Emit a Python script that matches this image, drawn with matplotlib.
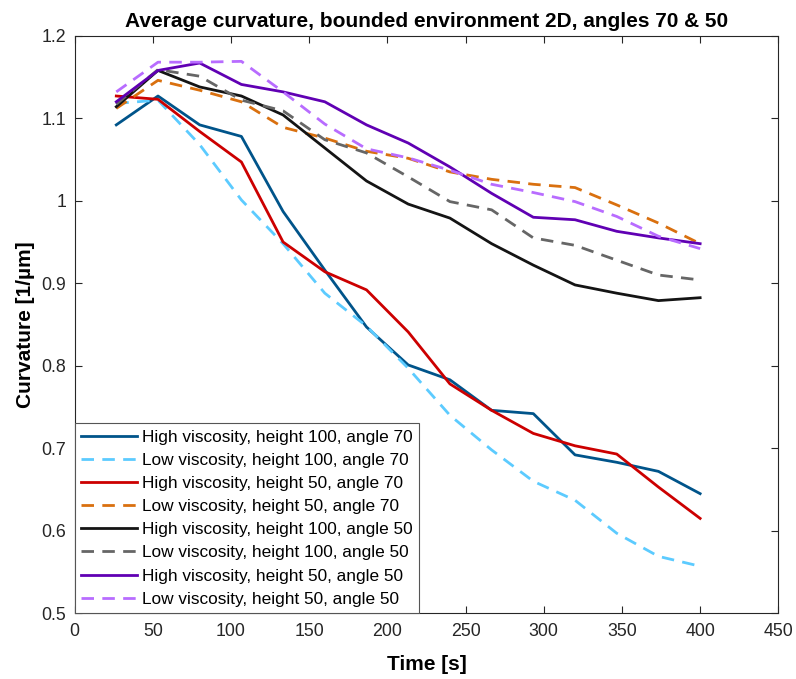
import numpy as np
import matplotlib
matplotlib.use("Agg")
import matplotlib.pyplot as plt

plt.rcParams['font.family'] = ['Liberation Sans', 'DejaVu Sans']

time_s = [26.67, 53.33, 80.0, 106.67, 133.33, 160.0, 186.67, 213.33, 240.0,
          266.67, 293.33, 320.0, 346.67, 373.33, 400.0]

high_h100_a70 = [1.092, 1.127, 1.092, 1.078, 0.987, 0.916, 0.847, 0.801, 0.783,
                 0.746, 0.742, 0.692, 0.683, 0.672, 0.645]
low_h100_a70 = [1.118, 1.122, 1.068, 1.001, 0.948, 0.888, 0.848, 0.797, 0.740,
                0.698, 0.660, 0.637, 0.597, 0.569, 0.557]
high_h50_a70 = [1.127, 1.123, 1.084, 1.047, 0.950, 0.914, 0.892, 0.841, 0.778,
                0.746, 0.718, 0.703, 0.693, 0.653, 0.615]
low_h50_a70 = [1.112, 1.146, 1.134, 1.120, 1.089, 1.076, 1.060, 1.0515, 1.035,
               1.026, 1.020, 1.016, 0.995, 0.973, 0.948]
high_h100_a50 = [1.114, 1.158, 1.138, 1.127, 1.104, 1.064, 1.024, 0.996, 0.979,
                 0.948, 0.922, 0.898, 0.888, 0.879, 0.8825]
low_h100_a50 = [1.117, 1.159, 1.151, 1.122, 1.109, 1.074, 1.058, 1.029, 0.999,
                0.989, 0.955, 0.946, 0.928, 0.910, 0.904]
high_h50_a50 = [1.120, 1.158, 1.167, 1.141, 1.132, 1.120, 1.092, 1.070, 1.041,
                1.009, 0.980, 0.977, 0.963, 0.955, 0.948]
low_h50_a50 = [1.132, 1.168, 1.168, 1.169, 1.132, 1.093, 1.063, 1.052, 1.037,
               1.020, 1.010, 0.999, 0.981, 0.957, 0.942]

labels = ["High viscosity, height 100, angle 70",
          "Low viscosity, height 100, angle 70",
          "High viscosity, height 50, angle 70",
          "Low viscosity, height 50, angle 70",
          "High viscosity, height 100, angle 50",
          "Low viscosity, height 100, angle 50",
          "High viscosity, height 50, angle 50",
          "Low viscosity, height 50, angle 50"]

series = [high_h100_a70, low_h100_a70, high_h50_a70, low_h50_a70,
          high_h100_a50, low_h100_a50, high_h50_a50, low_h50_a50]
colors = ['#00548A', '#5CCBFF', '#CC0000', '#D9700F',
          '#141414', '#666666', '#6000B3', '#B86CFF']
dashed = [False, True, False, True, False, True, False, True]

x_ticks = [0, 50, 100, 150, 200, 250, 300, 350, 400, 450]
y_ticks = [0.5, 0.6, 0.7, 0.8, 0.9, 1.0, 1.1, 1.2]
y_tick_labels = ['0.5', '0.6', '0.7', '0.8', '0.9', '1', '1.1', '1.2']

fig = plt.figure(figsize=(7.96, 6.79), dpi=100)
ax = fig.add_axes([0.0937, 0.0968, 0.9778 - 0.0937, 0.9473 - 0.0968])

for ys, c, d, lab in zip(series, colors, dashed, labels):
    line, = ax.plot(time_s, ys, color=c, lw=2.0, label=lab,
                    linestyle='--' if d else '-')
    if d:
        line.set_dashes((4.5, 3.0))

ax.set_xlim(0, 450)
ax.set_ylim(0.5, 1.2)
ax.set_xticks(x_ticks)
ax.set_yticks(y_ticks)
ax.set_yticklabels(y_tick_labels)
ax.tick_params(direction='in', top=True, right=True, labelsize=12.8,
               length=5, width=0.8, colors='#262626', labelcolor='#262626')
ax.tick_params(axis='x', pad=7)
ax.tick_params(axis='y', pad=6)
for s in ax.spines.values():
    s.set_color('#262626')
    s.set_linewidth(0.8)

ax.set_title("Average curvature, bounded environment 2D, angles 70 & 50",
             fontsize=15, fontweight='bold', pad=6)
ax.set_xlabel("Time [s]", fontsize=15, fontweight='bold', labelpad=10.5)
ax.set_ylabel("Curvature [1/µm]", fontsize=15, fontweight='bold', labelpad=5)

leg = ax.legend(loc='lower left', bbox_to_anchor=(0, 0), borderaxespad=0,
                prop={'size': 12.4}, handlelength=3.25, handletextpad=0.3,
                labelspacing=0.47, borderpad=0.38, fancybox=False,
                framealpha=1, edgecolor='#555555')
leg.get_frame().set_linewidth(0.8)

fig.savefig('out.png', dpi=100)
